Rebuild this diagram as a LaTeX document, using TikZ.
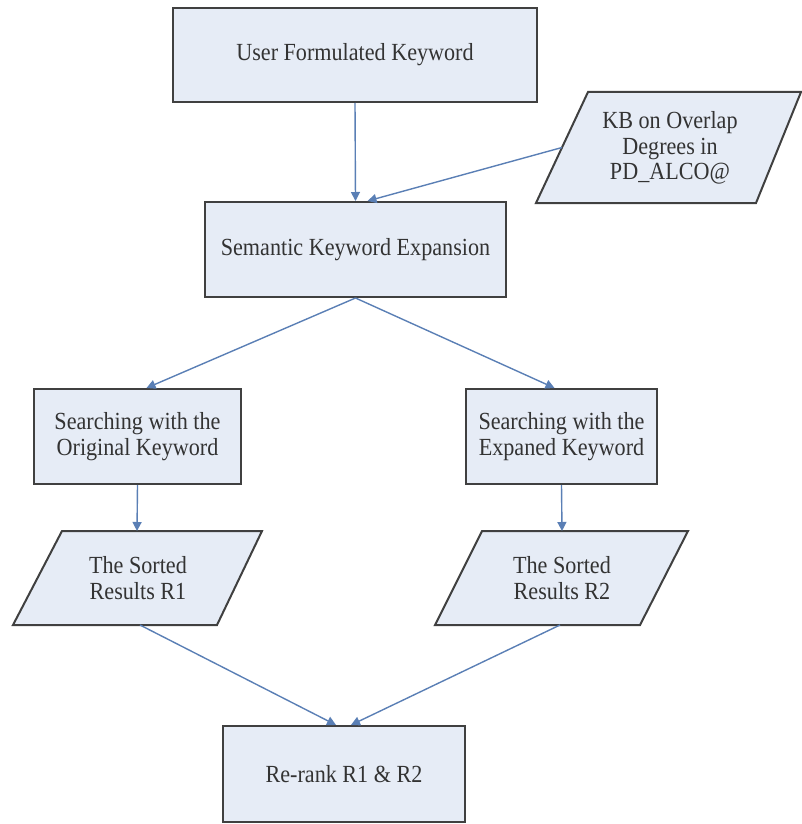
\documentclass[tikz,border=0pt]{standalone}
\usepackage{fontspec}
\setmainfont{Liberation Serif}[FakeStretch=0.9]
\usetikzlibrary{arrows.meta,calc}
\definecolor{boxfill}{HTML}{E6ECF6}
\definecolor{boxline}{HTML}{404040}
\definecolor{arrowcol}{HTML}{5A7FB5}
\definecolor{txtcol}{HTML}{333333}
\tikzset{
  procbox/.style={draw=boxline, line width=2pt, fill=boxfill, text=txtcol, align=center, inner sep=0pt},
  databox/.style={draw=boxline, line width=2pt, fill=boxfill},
  datatext/.style={text=txtcol, align=center, inner sep=0pt},
  conn/.style={draw=arrowcol, line width=1.4pt, -{Triangle[length=9pt,width=9pt]}},
}
\begin{document}
\begin{tikzpicture}[x=1pt,y=-1pt, font=\fontsize{24.6}{25.5}\selectfont]
\useasboundingbox (0,0) rectangle (802,824);
% process boxes
\node[procbox, minimum width=364pt, minimum height=94pt] (user) at (355,55) {User Formulated Keyword};
\node[procbox, minimum width=301pt, minimum height=95pt] (sem) at (355.5,249.5) {Semantic Keyword Expansion};
\node[procbox, minimum width=207pt, minimum height=95pt] (sl) at (137.5,436.5) {Searching with the\\Original Keyword};
\node[procbox, minimum width=191pt, minimum height=95pt] (sr) at (561.5,436.5) {Searching with the\\Expaned Keyword};
\node[procbox, minimum width=242pt, minimum height=96pt] (rr) at (344,774) {Re-rank R1 \& R2};
% data parallelograms
\draw[databox] (588,92) coordinate (kbtl) -- (801,92) -- (756,203) -- (536,203) coordinate (kbbl) -- cycle;
\node[datatext] (kb) at (670,148) {KB on Overlap\\Degrees in\\PD\_ALCO@};
\coordinate (kbin) at ($(kbtl)!0.5!(kbbl)$);
\draw[databox] (62,531) -- (262,531) -- (217,625) -- (13,625) -- cycle;
\node[datatext] (r1) at (138,578) {The Sorted\\Results R1};
\draw[databox] (482,531) -- (688,531) -- (640,625) -- (435,625) -- cycle;
\node[datatext] (r2) at (562,578) {The Sorted\\Results R2};
\coordinate (r1top) at (137,531);
\coordinate (r1bot) at (140,625);
\coordinate (r2top) at (562,531);
\coordinate (r2bot) at (560,625);
% connectors
\draw[conn] (user.south) -- (sem.north);
\draw[conn] (kbin) -- ([xshift=12pt]sem.north);
\draw[conn] (sem.south) -- ([xshift=9pt]sl.north);
\draw[conn] (sem.south) -- ([xshift=-7pt]sr.north);
\draw[conn] (sl.south) -- (r1top);
\draw[conn] (sr.south) -- (r2top);
\draw[conn] (r1bot) -- ([xshift=-8pt]rr.north);
\draw[conn] (r2bot) -- ([xshift=7pt]rr.north);
\end{tikzpicture}
\end{document}
